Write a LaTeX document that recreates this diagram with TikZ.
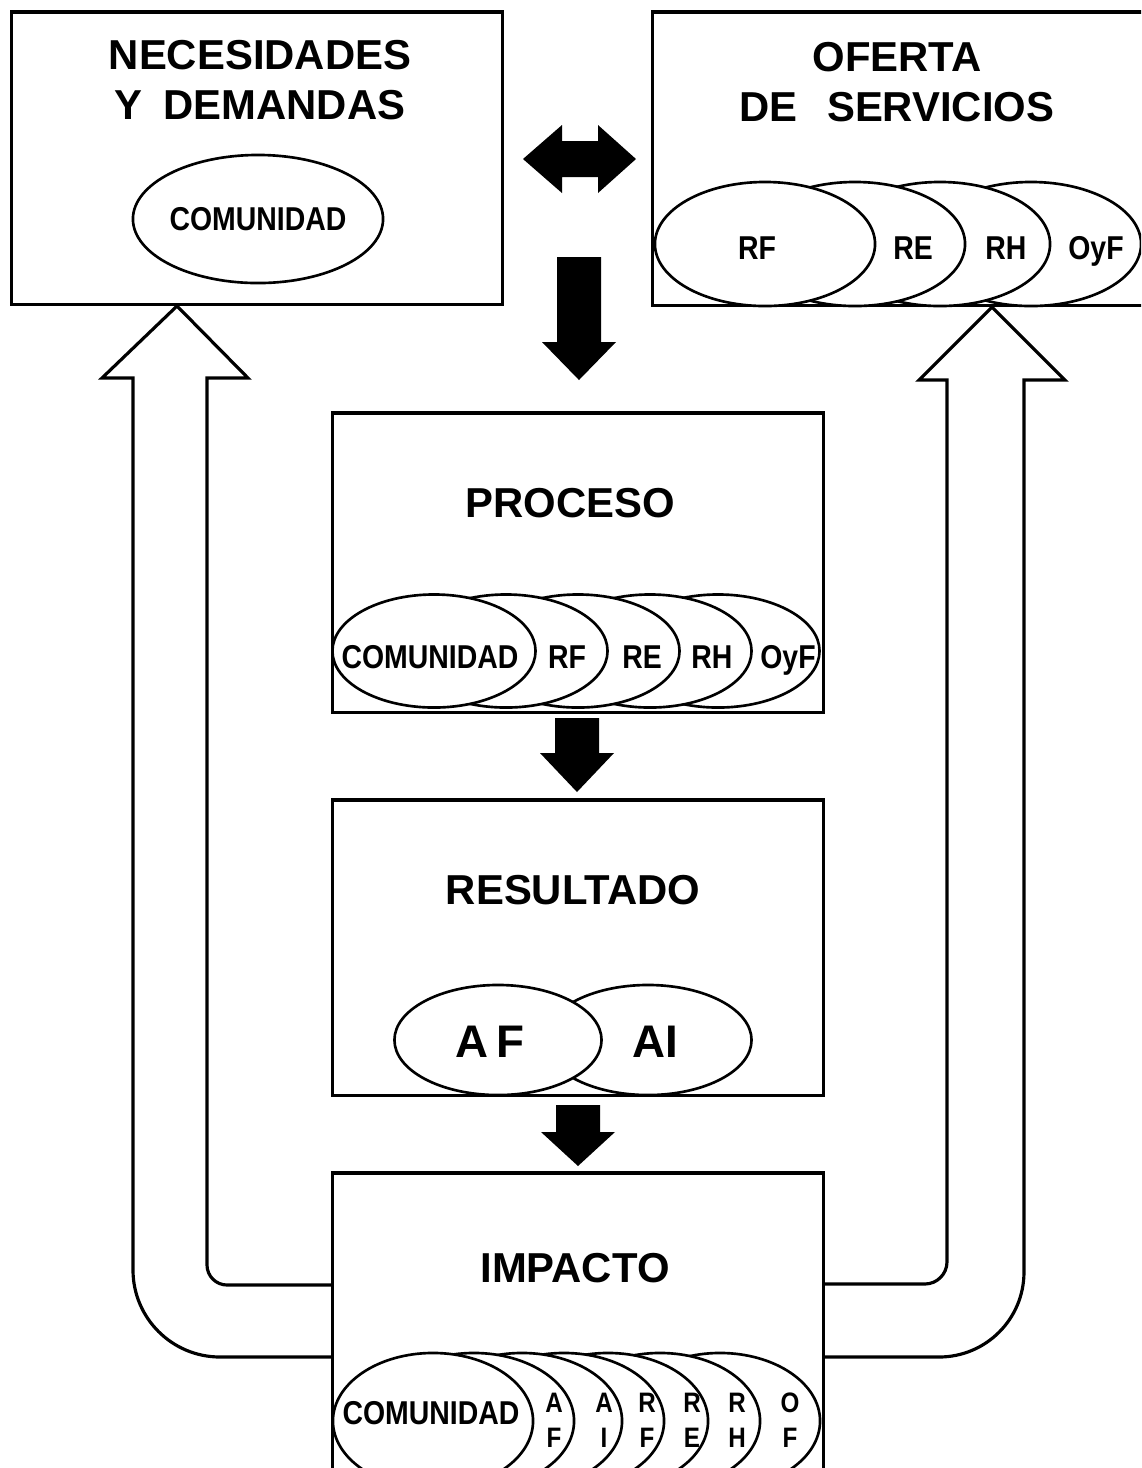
\documentclass[tikz,border=0pt]{standalone}
\usepackage{fontspec}
\setmainfont{Liberation Sans}
\newfontfamily\angosta[FakeStretch=0.86]{Liberation Sans}
\usetikzlibrary{shapes.geometric}
\def\flechaabajo(#1,#2)(#3)(#4){\fill (#1-22,#2) -- (#1+22,#2) -- (#1+22,#4) -- (#1+37,#4) -- (#1,#3) -- (#1-37,#4) -- (#1-22,#4) -- cycle;}
\tikzset{
	caja/.style={draw, rectangle, line width=0.9pt, inner sep=0pt, outer sep=0pt},
	elipse/.style={draw, ellipse, fill=white, line width=0.75pt, inner sep=0pt, outer sep=0pt},
	titulo/.style={font=\fontsize{11.9}{14.2}\selectfont\bfseries, align=center, inner sep=0pt},
	etiqueta/.style={font=\angosta\fontsize{9.4}{10}\selectfont\bfseries, align=center, inner sep=0pt, text depth=0pt},
	pila/.style={font=\angosta\fontsize{8}{9.9}\selectfont\bfseries, align=center, inner sep=0pt, text depth=0pt},
	flecha/.style={draw, line width=0.9pt, line join=miter}
}

\begin{document}
\begin{tikzpicture}[x=0.01cm, y=-0.01cm]
			%%%%% START %%%%%
			\useasboundingbox (0,0) rectangle (1141,1468);
			\clip (0,0) rectangle (1141,1468);
			
			% necesidades y demandas
			\node[caja, minimum width=4.9cm, minimum height=2.92cm] (nec) at (257,158) {};
			\node[titulo] (necT) at (260,80) {NECESIDADES\\Y\hspace{0.5em}DEMANDAS};
			\node[elipse, minimum width=2.24cm, minimum height=1.28cm, etiqueta] (necCom) at (258,219) {COMUNIDAD};
			
			% oferta de servicios
			\node[caja, minimum width=5.07cm, minimum height=2.93cm] (ofe) at (906.5,158.5) {};
			\node[titulo] (ofeT) at (897,82) {OFERTA\\DE\hspace{0.7em}SERVICIOS};
			\node[elipse, minimum width=2.2cm, minimum height=1.24cm] (ofeOyF) at (1031,244) {};
			\node[elipse, minimum width=2.2cm, minimum height=1.24cm] (ofeRH) at (940,244) {};
			\node[elipse, minimum width=2.2cm, minimum height=1.24cm] (ofeRE) at (855,244) {};
			\node[elipse, minimum width=2.2cm, minimum height=1.24cm] (ofeRF) at (765,244) {};
			\node[etiqueta] (ofeRFt) at (757,248) {RF};
			\node[etiqueta] (ofeREt) at (913,248) {RE};
			\node[etiqueta] (ofeRHt) at (1006,248) {RH};
			\node[etiqueta] (ofeOyFt) at (1096,248) {OyF};
			
			% flechas negras
			\fill (523,159) -- (562,125) -- (562,141) -- (598,141) -- (598,125) -- (636,159) -- (598,193) -- (598,177) -- (562,177) -- (562,193) -- cycle;
			\flechaabajo(579,257)(380)(342)
			\flechaabajo(577,718)(792)(753)
			\flechaabajo(578,1105)(1166)(1132)
			
			% proceso
			\node[caja, minimum width=4.9cm, minimum height=2.99cm] (pro) at (578,562.5) {};
			\node[titulo] (proT) at (570,503) {PROCESO};
			\node[elipse, minimum width=2.03cm, minimum height=1.13cm] (proOyF) at (718,651) {};
			\node[elipse, minimum width=2.03cm, minimum height=1.13cm] (proRH) at (650,651) {};
			\node[elipse, minimum width=2.03cm, minimum height=1.13cm] (proRE) at (578,651) {};
			\node[elipse, minimum width=2.03cm, minimum height=1.13cm] (proRF) at (506,651) {};
			\node[elipse, minimum width=2.03cm, minimum height=1.13cm] (proCom) at (434,651) {};
			\node[etiqueta] (proComt) at (430,657) {COMUNIDAD};
			\node[etiqueta] (proRFt) at (567,657) {RF};
			\node[etiqueta] (proREt) at (642,657) {RE};
			\node[etiqueta] (proRHt) at (712,657) {RH};
			\node[etiqueta] (proOyFt) at (788,657) {OyF};
			
			% resultado
			\node[caja, minimum width=4.9cm, minimum height=2.95cm] (res) at (578,947.5) {};
			\node[titulo] (resT) at (573,890) {RESULTADO};
			\node[elipse, minimum width=2.07cm, minimum height=1.1cm] (resAI) at (648,1040) {};
			\node[elipse, minimum width=2.07cm, minimum height=1.1cm] (resAF) at (498,1040) {};
			\node[etiqueta, font=\fontsize{13}{14}\selectfont\bfseries] (resAFt) at (490,1042) {A\,F};
			\node[etiqueta, font=\fontsize{13}{14}\selectfont\bfseries] (resAIt) at (655,1042) {AI};
			
			% impacto
			\node[caja, minimum width=4.9cm, minimum height=3.17cm] (imp) at (578,1331.5) {};
			\node[titulo] (impT) at (575,1268) {IMPACTO};
			\node[elipse, minimum width=2cm, minimum height=1.36cm] (impOF) at (720,1421) {};
			\node[elipse, minimum width=2cm, minimum height=1.36cm] (impRH) at (660,1421) {};
			\node[elipse, minimum width=2cm, minimum height=1.36cm] (impRE) at (608,1421) {};
			\node[elipse, minimum width=2cm, minimum height=1.36cm] (impRF) at (564,1421) {};
			\node[elipse, minimum width=2cm, minimum height=1.36cm] (impAI) at (522,1421) {};
			\node[elipse, minimum width=2cm, minimum height=1.36cm] (impAF) at (474,1421) {};
			\node[elipse, minimum width=2cm, minimum height=1.36cm] (impCom) at (433,1421) {};
			\node[etiqueta] (impComt) at (431,1413) {COMUNIDAD};
			\node[pila] (impAFt) at (554,1420) {A\\F};
			\node[pila] (impAIt) at (604,1420) {A\\I};
			\node[pila] (impRFt) at (647,1420) {R\\F};
			\node[pila] (impREt) at (692,1420) {R\\E};
			\node[pila] (impRHt) at (737,1420) {R\\H};
			\node[pila] (impOFt) at (790,1420) {O\\F};
			
			% flechas huecas de vuelta
			\draw[flecha] (imp.west |- 0,1285) -- (227,1285) .. controls (216,1285) and (207,1276) .. (207,1265) -- (207,378) -- (248,378) -- (177,306) -- (102,378) -- (133,378) -- (133,1270) .. controls (133,1318) and (172,1357) .. (220,1357) -- (imp.west |- 0,1357);
			\draw[flecha] (imp.east |- 0,1284) -- (925,1284) .. controls (937,1284) and (947,1274) .. (947,1262) -- (947,380) -- (919,380) -- (992,307) -- (1065,380) -- (1024,380) -- (1024,1272) .. controls (1024,1319) and (986,1357) .. (939,1357) -- (imp.east |- 0,1357);
			
			%%%%% END %%%%%
\end{tikzpicture}
\end{document}
